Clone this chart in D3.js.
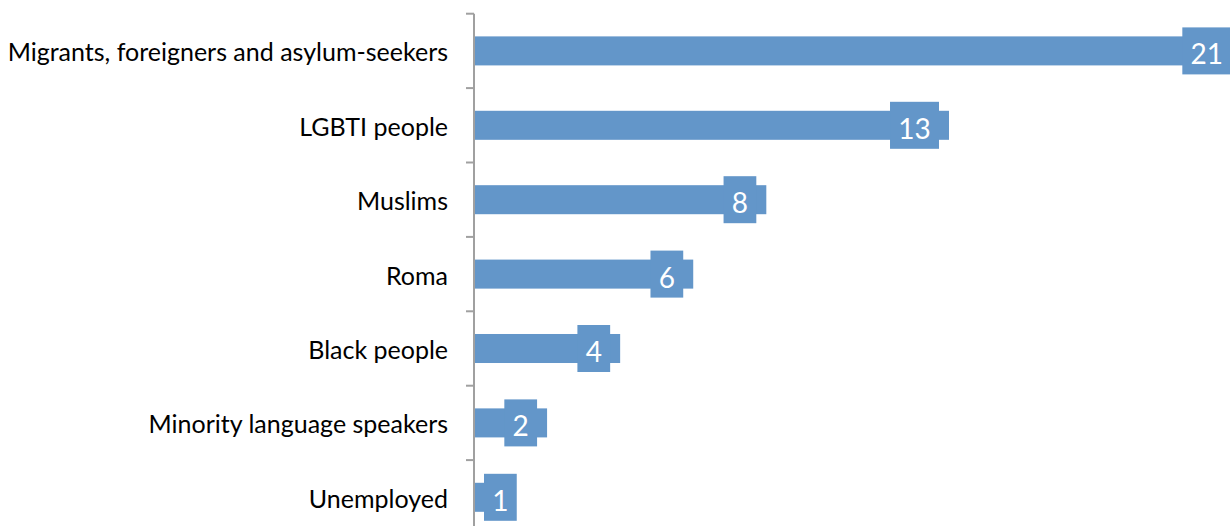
<!DOCTYPE html>
<html>
<head>
<meta charset="utf-8">
<script src="https://cdn.jsdelivr.net/npm/d3@7"></script>
<style>
  body { margin: 0; background: #fff; }
  svg { display: block; }
</style>
</head>
<body>
<svg id="chart" width="1230" height="526"></svg>
<script>
// data
var categories = ["Migrants, foreigners and asylum-seekers", "LGBTI people", "Muslims", "Roma",
                  "Black people", "Minority language speakers", "Unemployed"];
var values = [21, 13, 8, 6, 4, 2, 1];

var barColor = "#6396C9";
var axisColor = "#A0A0A0";
var fontFamily = "Lato, 'Open Sans', sans-serif";

var svg = d3.select("#chart");

var x0 = 474;
var x = d3.scaleLinear().domain([0, 13]).range([x0, 949]);

var y = d3.scaleBand()
  .domain(categories)
  .range([13.7, 534.5])
  .paddingInner(0.61)
  .paddingOuter(0.305);

var step = y.step();
var top0 = 13.7;

// bars
svg.selectAll("rect.bar")
  .data(values)
  .enter()
  .append("rect")
    .attr("class", "bar")
    .attr("x", x0)
    .attr("y", function(d, i){ return y(categories[i]); })
    .attr("width", function(d){ return x(d) - x0; })
    .attr("height", y.bandwidth())
    .style("fill", barColor);

// axis line and ticks at category boundaries
svg.append("line")
  .attr("x1", x0).attr("x2", x0)
  .attr("y1", top0).attr("y2", 526)
  .style("stroke", axisColor)
  .style("stroke-width", 2);

svg.selectAll("line.tick")
  .data(d3.range(categories.length))
  .enter()
  .append("line")
    .attr("class", "tick")
    .attr("x1", x0 - 8).attr("x2", x0)
    .attr("y1", function(i){ return top0 + i * step; })
    .attr("y2", function(i){ return top0 + i * step; })
    .style("stroke", axisColor)
    .style("stroke-width", 2);

// category labels
svg.selectAll("text.cat")
  .data(categories)
  .enter()
  .append("text")
    .attr("class", "cat")
    .attr("x", 448)
    .attr("y", function(d){ return y(d) + y.bandwidth() / 2 + 10.5; })
    .attr("text-anchor", "end")
    .style("font-family", fontFamily)
    .style("font-size", "25px")
    .style("fill", "#000")
    .text(function(d){ return d; });

// value labels with boxes
var lab = svg.selectAll("g.val")
  .data(values)
  .enter()
  .append("g")
    .attr("class", "val");

lab.each(function(d, i){
  var g = d3.select(this);
  var cy = y(categories[i]) + y.bandwidth() / 2;
  var t = g.append("text")
    .attr("y", cy + 13.5)
    .attr("text-anchor", "middle")
    .style("font-family", fontFamily)
    .style("font-size", "28px")
    .style("fill", "#fff")
    .text(d);
  var w = t.node().getComputedTextLength() + 16.5;
  var bx = Math.max(x0 + 10, x(d) - 10 - w);
  g.insert("rect", "text")
    .attr("x", bx)
    .attr("y", cy - 23.5)
    .attr("width", w)
    .attr("height", 47)
    .style("fill", barColor);
  t.attr("x", bx + w / 2);
});
</script>
</body>
</html>
